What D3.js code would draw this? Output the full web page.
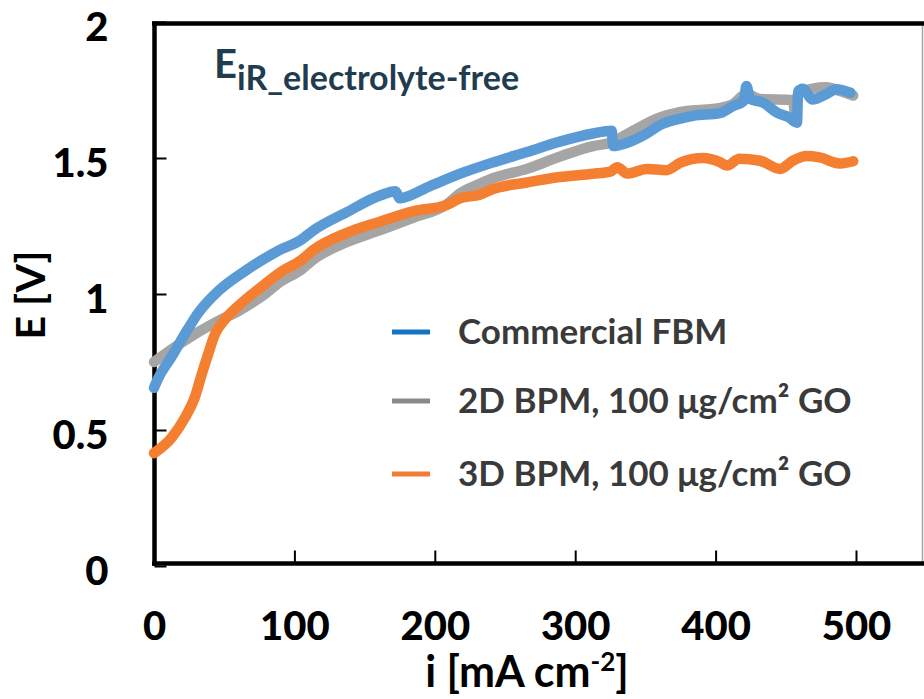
<!DOCTYPE html>
<html>
<head>
<meta charset="utf-8">
<script src="https://cdn.jsdelivr.net/npm/d3@7.9.0/dist/d3.min.js"></script>
<style>
  body { margin: 0; background: #fff; }
  svg { display: block; font-family: Lato, "Open Sans", sans-serif; font-weight: bold; }
</style>
</head>
<body>
<svg width="924" height="699"></svg>
<script>
// Commercial FBM
const iFBM = [0, 3, 12.6, 24, 31.5, 45.6, 65, 88, 105, 113, 137, 161, 172, 175, 196.6, 220, 241, 265.6, 289, 312.7, 326, 327, 337, 351, 360, 375, 384, 403, 412, 420, 422, 424.5, 434, 443.7, 452, 458, 458.7, 462, 469, 479, 486, 496];
const eFBM = [0.655, 0.69, 0.77, 0.87, 0.93, 1.01, 1.085, 1.158, 1.2, 1.232, 1.30, 1.362, 1.378, 1.352, 1.397, 1.446, 1.483, 1.522, 1.56, 1.59, 1.6, 1.544, 1.556, 1.59, 1.62, 1.645, 1.655, 1.665, 1.69, 1.71, 1.765, 1.717, 1.703, 1.667, 1.65, 1.63, 1.745, 1.755, 1.715, 1.735, 1.753, 1.74];

// 2D BPM, 100 ug/cm2 GO
const i2D = [0, 12.6, 29, 45.6, 60, 79, 90, 105, 113, 137, 161, 184.5, 208.7, 218, 232, 241, 265.6, 289, 312.7, 325, 341, 360, 379.6, 398, 412, 422, 431.6, 455, 457, 459, 479, 488.6, 498];
const e2D = [0.75, 0.797, 0.852, 0.9, 0.937, 1.0, 1.045, 1.09, 1.125, 1.19, 1.235, 1.28, 1.33, 1.37, 1.405, 1.425, 1.46, 1.505, 1.544, 1.556, 1.6, 1.648, 1.673, 1.68, 1.697, 1.735, 1.717, 1.713, 1.65, 1.74, 1.76, 1.746, 1.73];

// 3D BPM, 100 ug/cm2 GO
const i3D = [0, 12.6, 22, 29, 34, 38.5, 43.4, 50.6, 60, 76.7, 90, 105, 113, 137, 161, 184.5, 208.7, 218, 232, 241, 265.6, 289, 312.7, 325, 330, 337, 351, 365, 375, 391, 403, 408, 417, 431.6, 446, 455, 465, 474, 488.6, 498];
const e3D = [0.415, 0.472, 0.545, 0.619, 0.705, 0.778, 0.852, 0.907, 0.956, 1.027, 1.08, 1.125, 1.16, 1.224, 1.266, 1.304, 1.328, 1.352, 1.365, 1.385, 1.41, 1.43, 1.442, 1.45, 1.466, 1.443, 1.46, 1.455, 1.483, 1.50, 1.485, 1.472, 1.497, 1.49, 1.46, 1.49, 1.507, 1.502, 1.48, 1.488];

const xTicks = [0, 100, 200, 300, 400, 500];
const yTicks = [0, 0.5, 1, 1.5, 2];
const yTickLabels = ['0', '0.5', '1', '1.5', '2'];

const seriesNames = ['Commercial FBM', '2D BPM, 100 μg/cm² GO', '3D BPM, 100 μg/cm² GO'];
const lineColors = ['#5b9bd5', '#a5a5a5', '#f47f30'];
const legendColors = ['#1474c4', '#8a8a8a', '#ef7e33'];

const svg = d3.select('svg');

const x = d3.scaleLinear().domain([0, 500]).range([154, 856]);
const y = d3.scaleLinear().domain([0, 2]).range([566, 22]);

// axes, ticks pointing inward
const xAxis = svg.append('g')
  .attr('transform', 'translate(0,563.5)')
  .call(d3.axisBottom(x).tickValues(xTicks).tickSize(-13).tickPadding(48).tickFormat(d3.format('d')));
const yAxis = svg.append('g')
  .attr('transform', 'translate(154.5,0)')
  .call(d3.axisLeft(y).tickValues(yTicks).tickSize(-12).tickPadding(46).tickFormat((d, k) => yTickLabels[k]));

[xAxis, yAxis].forEach(g => {
  g.select('.domain').remove();
  g.selectAll('.tick line').attr('stroke', '#000').attr('stroke-width', 2);
  g.selectAll('.tick text')
    .attr('fill', '#000')
    .attr('font-family', 'Lato, sans-serif')
    .attr('font-weight', 900)
    .attr('font-size', 40);
});
yAxis.selectAll('.tick text').attr('dy', '0.47em');

// frame
svg.append('line').attr('x1', 922.5).attr('x2', 922.5).attr('y1', 23).attr('y2', 564)
  .attr('stroke', '#a6a6a6').attr('stroke-width', 1.5);
svg.append('line').attr('x1', 152).attr('x2', 924).attr('y1', 23.5).attr('y2', 23.5)
  .attr('stroke', '#000').attr('stroke-width', 4.5);
svg.append('line').attr('x1', 152).attr('x2', 924).attr('y1', 563.5).attr('y2', 563.5)
  .attr('stroke', '#000').attr('stroke-width', 4.5);
svg.append('line').attr('x1', 154.5).attr('x2', 154.5).attr('y1', 21.5).attr('y2', 565.7)
  .attr('stroke', '#000').attr('stroke-width', 4.5);

// data lines: gray first, then orange, then blue on top
const line = d3.line().curve(d3.curveMonotoneX).x(d => x(d[0])).y(d => y(d[1]));
const series = [
  d3.zip(iFBM, eFBM),
  d3.zip(i2D, e2D),
  d3.zip(i3D, e3D)
];
[1, 2, 0].forEach(k => {
  svg.append('path')
    .datum(series[k])
    .attr('d', line)
    .attr('fill', 'none')
    .attr('stroke', lineColors[k])
    .attr('stroke-width', 10.5)
    .attr('stroke-linejoin', 'round')
    .attr('stroke-linecap', 'round');
});

// legend
const legendY = [332, 401, 474];
seriesNames.forEach((name, k) => {
  svg.append('line')
    .attr('x1', 392).attr('x2', 430)
    .attr('y1', legendY[k]).attr('y2', legendY[k])
    .attr('stroke', legendColors[k]).attr('stroke-width', 5);
  svg.append('text')
    .attr('x', 458).attr('y', legendY[k] + 12)
    .attr('font-size', 35)
    .attr('fill', '#3a3a3a')
    .text(name);
});

// inner title
const title = svg.append('text')
  .attr('x', 214).attr('y', 78)
  .attr('fill', '#213c4e');
title.append('tspan').attr('font-size', 40).text('E');
title.append('tspan').attr('font-size', 34).attr('dy', 12).text('iR_electrolyte-free');

// axis titles
const xTitle = svg.append('text')
  .attr('x', 527).attr('y', 687)
  .attr('text-anchor', 'middle')
  .attr('font-size', 43)
  .attr('fill', '#000');
xTitle.append('tspan').text('i [mA cm');
xTitle.append('tspan').attr('font-size', 26).attr('dy', -16).text('-2');
xTitle.append('tspan').attr('dy', 16).text(']');

svg.append('text')
  .attr('transform', 'translate(45,295) rotate(-90)')
  .attr('text-anchor', 'middle')
  .attr('font-size', 41)
  .attr('fill', '#000')
  .text('E [V]');
</script>
</body>
</html>
